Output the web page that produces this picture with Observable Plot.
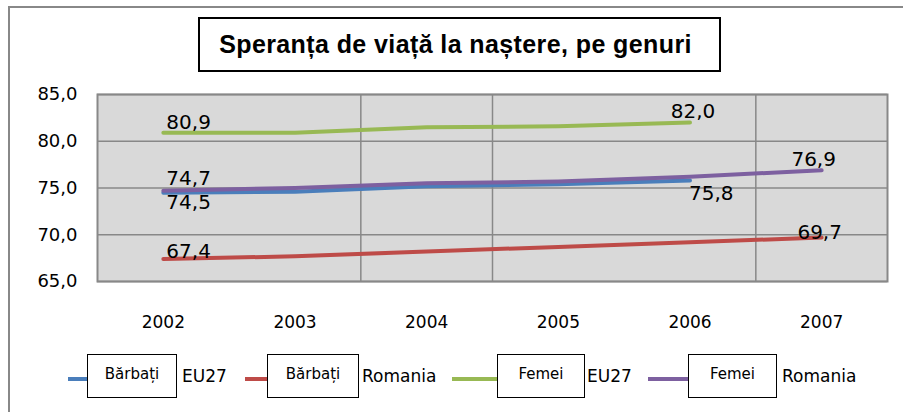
<!DOCTYPE html>
<html>
<head>
<meta charset="utf-8">
<script src="https://cdn.jsdelivr.net/npm/d3@7"></script>
<script src="https://cdn.jsdelivr.net/npm/@observablehq/plot@0.6"></script>
<style>
  html, body { margin: 0; padding: 0; background: #fff; }
  #wrap { position: relative; width: 903px; height: 412px; overflow: hidden; background: #fff; font-family: "DejaVu Sans", sans-serif; }
  #frame { position: absolute; left: 8px; top: 6px; width: 2000px; height: 2000px; border-left: 2px solid #888; border-top: 2px solid #888; box-sizing: border-box; }
  #titleArea { position: relative; height: 80px; }
  #titleBox { position: absolute; left: 198px; top: 17px; width: 523px; height: 55px; box-sizing: border-box; border: 2px solid #000; background: #fff;
    display: flex; align-items: center; justify-content: center;
    font-family: "Liberation Sans", Arial, sans-serif; font-weight: bold; font-size: 25px; letter-spacing: 0.4px; color: #000; padding-right: 8px; }
  #chart { position: relative; height: 260px; }
  #chart svg { display: block; }
  #legend { position: relative; height: 72px; }
  .lg-line { position: absolute; top: 37px; height: 4px; }
  .lg-box { position: absolute; top: 14px; height: 44px; box-sizing: border-box; border: 1.5px solid #000; background: #fff;
    display: flex; align-items: center; justify-content: center; font-size: 15px; padding-bottom: 4px; }
  .lg-text { position: absolute; top: 26px; font-size: 17px; line-height: 20px; color: #000; }
</style>
</head>
<body>
<div id="wrap">
  <div id="frame"></div>
  <div id="titleArea"><div id="titleBox"></div></div>
  <div id="chart"></div>
  <div id="legend"></div>
</div>
<script>
// ---- data ----
const title = "Speranța de viață la naștere, pe genuri";
const years = [2002, 2003, 2004, 2005, 2006, 2007];
const yTicks = [65, 70, 75, 80, 85];
const seriesGender = ["Bărbați", "Bărbați", "Femei", "Femei"];
const seriesRegion = ["EU27", "Romania", "EU27", "Romania"];
const barbatiEU27 = [74.5, 74.6, 75.2, 75.4, 75.8, null];
const barbatiRomania = [67.4, 67.7, 68.2, 68.7, 69.2, 69.7];
const femeiEU27 = [80.9, 80.9, 81.5, 81.6, 82.0, null];
const femeiRomania = [74.7, 75.0, 75.5, 75.7, 76.2, 76.9];
const seriesValues = [barbatiEU27, barbatiRomania, femeiEU27, femeiRomania];
const seriesColors = ["#4a7ebb", "#be4b48", "#98b954", "#7d60a0"];
// vertical gridlines sit on these category boundaries in the original
const xGridYears = [2003.5, 2004.5, 2006.5];

// ---- layout (legend placement) ----
const legendLayout = [
  {lineLeft: 68, lineW: 19, boxW: 90, textGap: 5},
  {lineLeft: 245, lineW: 22, boxW: 92, textGap: 3},
  {lineLeft: 452, lineW: 45, boxW: 88, textGap: 2},
  {lineLeft: 648, lineW: 40, boxW: 89, textGap: 5}
];

const seriesNames = seriesGender.map((g, i) => g + " " + seriesRegion[i]);
const rows = [];
seriesValues.forEach((vals, i) => vals.forEach((v, j) => {
  if (v != null) rows.push({series: seriesNames[i], year: years[j], value: v});
}));
const fmt = v => v.toFixed(1).replace(".", ",");

function endPoint(i, which) {
  const r = rows.filter(d => d.series === seriesNames[i]);
  return [which === "first" ? r[0] : r[r.length - 1]];
}
const labelSpecs = [
  {i: 2, end: "first", textAnchor: "start", dx: 3, dy: -4},
  {i: 3, end: "first", textAnchor: "start", dx: 3, dy: -6},
  {i: 0, end: "first", textAnchor: "start", dx: 3, dy: 16},
  {i: 1, end: "first", textAnchor: "start", dx: 3, dy: -1},
  {i: 2, end: "last", textAnchor: "middle", dx: 3, dy: -5},
  {i: 0, end: "last", textAnchor: "start", dx: -1, dy: 19},
  {i: 3, end: "last", textAnchor: "middle", dx: -8, dy: -4},
  {i: 1, end: "last", textAnchor: "middle", dx: -2, dy: 1}
];

document.getElementById("titleBox").textContent = title;

const chart = Plot.plot({
  width: 903,
  height: 260,
  marginLeft: 97,
  marginRight: 16,
  marginTop: 14,
  marginBottom: 59,
  style: {background: "transparent", fontFamily: "DejaVu Sans, sans-serif", overflow: "visible"},
  x: {type: "linear", domain: [2001.5, 2007.5]},
  y: {domain: [65, 85]},
  color: {domain: seriesNames, range: seriesColors},
  marks: [
    Plot.frame({fill: "#d9d9d9", stroke: null}),
    Plot.ruleY(yTicks, {stroke: "#888", strokeWidth: 1.5}),
    Plot.ruleX(xGridYears, {stroke: "#888", strokeWidth: 1.5}),
    Plot.frame({stroke: "#888", strokeWidth: 2}),
    Plot.line(rows, {x: "year", y: "value", z: "series", stroke: "series", strokeWidth: 4, strokeLinecap: "round", strokeLinejoin: "round"}),
    ...labelSpecs.map(s => Plot.text(endPoint(s.i, s.end), {
      x: "year", y: "value", text: d => fmt(d.value),
      textAnchor: s.textAnchor, dx: s.dx, dy: s.dy, lineAnchor: "bottom",
      fontSize: 20, fill: "#000", fontFamily: "DejaVu Sans, sans-serif"
    })),
    Plot.axisY({ticks: yTicks, tickSize: 0, tickPadding: 20, tickFormat: fmt, fontSize: 18, label: null}),
    Plot.axisX({ticks: years, tickSize: 0, tickPadding: 34, tickFormat: d => String(d), fontSize: 17, label: null})
  ]
});
document.getElementById("chart").appendChild(chart);

// legend
const legend = document.getElementById("legend");
seriesNames.forEach((name, i) => {
  const L = legendLayout[i];
  const line = document.createElement("div");
  line.className = "lg-line";
  line.style.left = L.lineLeft + "px";
  line.style.width = L.lineW + "px";
  line.style.background = seriesColors[i];
  legend.appendChild(line);
  const box = document.createElement("div");
  box.className = "lg-box";
  box.style.left = (L.lineLeft + L.lineW) + "px";
  box.style.width = L.boxW + "px";
  box.textContent = seriesGender[i];
  legend.appendChild(box);
  const t = document.createElement("div");
  t.className = "lg-text";
  t.style.left = (L.lineLeft + L.lineW + L.boxW + L.textGap) + "px";
  t.textContent = seriesRegion[i];
  legend.appendChild(t);
});
</script>
</body>
</html>
